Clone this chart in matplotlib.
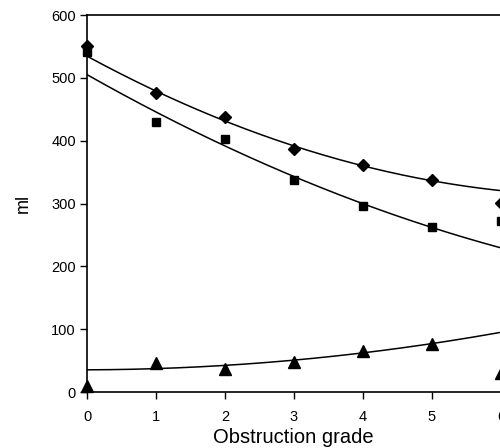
import numpy as np
import matplotlib.pyplot as plt

plt.rcParams['font.family'] = ['Liberation Sans', 'DejaVu Sans']

# obstruction grades
grade = [0, 1, 2, 3, 4, 5, 6]

# measured points (ml)
diamond = [550, 476, 438, 386, 362, 338, 301]
square = [541, 430, 403, 338, 296, 262, 272]
triangle = [10, 46, 36, 48, 66, 77, 31]

# trend lines read at each grade
diamond_fit = [536, 474, 438, 387, 361, 337, 320]
square_fit = [503, 449, 393, 340, 298, 264, 229]
triangle_fit = [35, 38, 43, 48, 63, 79, 94]

fig = plt.figure(figsize=(5, 4.48), dpi=100)
# axes runs past the right edge of the picture, as in the cropped reference
ax = fig.add_axes([0.174, 0.125, 0.966, 0.8415])

xs = np.linspace(0, 6.5, 200)
for fit in (diamond_fit, square_fit, triangle_fit):
    c = np.polyfit(grade, fit, 2)
    ax.plot(xs, np.polyval(c, xs), color='black', lw=1.1)

ax.plot(grade, diamond, 'D', color='black', ms=6.5, clip_on=False)
ax.plot(grade, square, 's', color='black', ms=5.5, clip_on=False)
ax.plot(grade, triangle, '^', color='black', ms=8, clip_on=False)

ax.set_xlim(0, 7)
ax.set_ylim(0, 600)
ax.set_xticks(grade)
ax.set_yticks(range(0, 601, 100))
ax.tick_params(direction='out', length=5, labelsize=10.5, width=1)
ax.tick_params(axis='x', pad=8)
ax.tick_params(axis='y', pad=3)
ax.spines['right'].set_visible(False)
for s in ('left', 'bottom', 'top'):
    ax.spines[s].set_linewidth(1.2)

ax.set_ylabel('ml', fontsize=13, labelpad=14)
fig.text(0.586, 0.002, 'Obstruction grade', fontsize=14.5, ha='center', va='bottom')

fig.savefig('out.png', dpi=100)
